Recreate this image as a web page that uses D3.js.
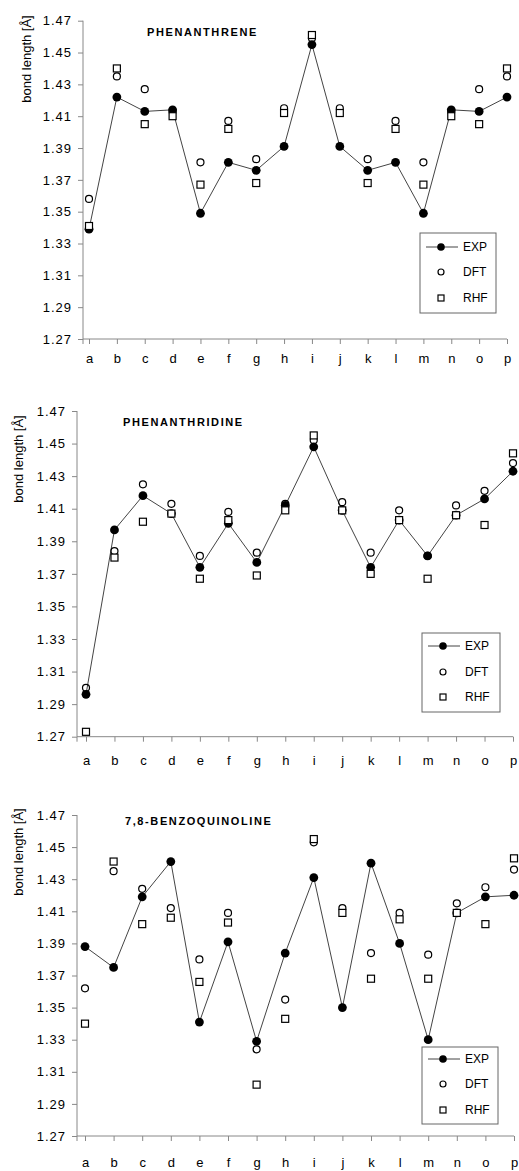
<!DOCTYPE html>
<html>
<head>
<meta charset="utf-8">
<script src="https://cdn.jsdelivr.net/npm/d3@7"></script>
<style>
  body { margin: 0; background: #fff; }
  svg { display: block; font-family: "Liberation Sans", Arial, sans-serif; }
</style>
</head>
<body>
<svg id="chart" width="519" height="1171"></svg>
<script>
// bond labels and y ticks
const categories = ["a","b","c","d","e","f","g","h","i","j","k","l","m","n","o","p"];
const yTicks = [1.27, 1.29, 1.31, 1.33, 1.35, 1.37, 1.39, 1.41, 1.43, 1.45, 1.47];
const seriesNames = ["EXP", "DFT", "RHF"];

// PHENANTHRENE
const phenEXP = [1.339,1.422,1.413,1.414,1.349,1.381,1.376,1.391,1.455,1.391,1.376,1.381,1.349,1.414,1.413,1.422];
const phenDFT = [1.358,1.435,1.427,1.413,1.381,1.407,1.383,1.415,1.459,1.415,1.383,1.407,1.381,1.413,1.427,1.435];
const phenRHF = [1.341,1.440,1.405,1.410,1.367,1.402,1.368,1.412,1.461,1.412,1.368,1.402,1.367,1.410,1.405,1.440];

// PHENANTHRIDINE
const phdnEXP = [1.296,1.397,1.418,1.407,1.374,1.401,1.377,1.412,1.448,1.409,1.374,1.403,1.381,1.406,1.416,1.433];
const phdnDFT = [1.300,1.384,1.425,1.413,1.381,1.408,1.383,1.413,1.452,1.414,1.383,1.409,1.381,1.412,1.421,1.438];
const phdnRHF = [1.273,1.380,1.402,1.407,1.367,1.403,1.369,1.409,1.455,1.409,1.370,1.403,1.367,1.406,1.400,1.444];

// 7,8-BENZOQUINOLINE
const bzqEXP = [1.388,1.375,1.419,1.441,1.341,1.391,1.329,1.384,1.431,1.350,1.440,1.390,1.330,1.409,1.419,1.420];
const bzqDFT = [1.362,1.435,1.424,1.412,1.380,1.409,1.324,1.355,1.453,1.412,1.384,1.409,1.383,1.415,1.425,1.436];
const bzqRHF = [1.340,1.441,1.402,1.406,1.366,1.403,1.302,1.343,1.455,1.409,1.368,1.405,1.368,1.409,1.402,1.443];

const panels = [
  { title: "PHENANTHRENE", exp: phenEXP, dft: phenDFT, rhf: phenRHF,
    axisX: 83, x0: 89, x1: 507, top: 20.7, bottom: 339, labelDy: 24,
    titleX: 147, titleY: 36, yLabX: 26, yLabY: 59,
    legend: { x: 420, y: 233, w: 76, h: 80, rows: [14, 39, 65] } },
  { title: "PHENANTHRIDINE", exp: phdnEXP, dft: phdnDFT, rhf: phdnRHF,
    axisX: 77, x0: 86, x1: 513, top: 411, bottom: 736.7, labelDy: 28,
    titleX: 123, titleY: 426, yLabX: 18, yLabY: 459,
    legend: { x: 422, y: 633, w: 78, h: 79, rows: [13, 39, 64] } },
  { title: "7,8-BENZOQUINOLINE", exp: bzqEXP, dft: bzqDFT, rhf: bzqRHF,
    axisX: 77, x0: 85, x1: 514, top: 815, bottom: 1136, labelDy: 31,
    titleX: 125, titleY: 825, yLabX: 18, yLabY: 852,
    legend: { x: 422, y: 1047, w: 76, h: 77, rows: [12, 37, 63] } }
];

const svg = d3.select("#chart");
const axisColor = "#888";

function drawPanel(p) {
  const g = svg.append("g");
  const x = d3.scaleLinear().domain([0, categories.length - 1]).range([p.x0, p.x1]);
  const y = d3.scaleLinear().domain([1.27, 1.47]).range([p.bottom, p.top]);

  // y axis
  const yAxis = d3.axisLeft(y).tickValues(yTicks).tickSize(5).tickPadding(6)
    .tickFormat(d3.format(".2f"));
  const ya = g.append("g").attr("transform", "translate(" + p.axisX + ",0)").call(yAxis);
  ya.select(".domain").attr("stroke", axisColor).attr("d", "M0," + p.top + "V" + p.bottom);
  ya.selectAll(".tick line").attr("stroke", axisColor);
  ya.selectAll(".tick text").attr("fill", "#000").style("font-size", "13px").style("letter-spacing", "1px");

  // x axis
  const xAxis = d3.axisBottom(x).tickValues(d3.range(categories.length)).tickSize(5)
    .tickFormat(i => categories[i]);
  const xa = g.append("g").attr("transform", "translate(0," + p.bottom + ")").call(xAxis);
  xa.select(".domain").attr("stroke", axisColor).attr("d", "M" + p.axisX + ",0H" + p.x1);
  xa.selectAll(".tick line").attr("stroke", axisColor);
  xa.selectAll(".tick text").attr("fill", "#000").style("font-size", "13px")
    .attr("y", p.labelDy).attr("dy", 0);
  xa.append("line").attr("x1", p.axisX).attr("x2", p.axisX).attr("y1", 0).attr("y2", 5)
    .attr("stroke", axisColor);

  // title and y label
  g.append("text").attr("x", p.titleX).attr("y", p.titleY)
    .style("font-size", "11px").style("font-weight", "bold").style("letter-spacing", "1.6px")
    .text(p.title);
  g.append("text")
    .attr("transform", "translate(" + p.yLabX + "," + p.yLabY + ") rotate(-90)")
    .attr("text-anchor", "middle").attr("dominant-baseline", "central")
    .style("font-size", "13px").text("bond length [Å]");

  // EXP line + markers
  const line = d3.line().x((d, i) => x(i)).y(d => y(d));
  g.append("path").datum(p.exp).attr("d", line)
    .attr("fill", "none").attr("stroke", "#444").attr("stroke-width", 1);
  g.selectAll(".exp").data(p.exp).join("circle").attr("class", "exp")
    .attr("cx", (d, i) => x(i)).attr("cy", d => y(d)).attr("r", 4.4).attr("fill", "#000");

  // DFT open circles
  g.selectAll(".dft").data(p.dft).join("circle").attr("class", "dft")
    .attr("cx", (d, i) => x(i)).attr("cy", d => y(d)).attr("r", 3.5)
    .attr("fill", "none").attr("stroke", "#000").attr("stroke-width", 1.2);

  // RHF open squares
  const s = 7;
  g.selectAll(".rhf").data(p.rhf).join("rect").attr("class", "rhf")
    .attr("x", (d, i) => x(i) - s / 2).attr("y", d => y(d) - s / 2)
    .attr("width", s).attr("height", s)
    .attr("fill", "#fff").attr("stroke", "#000").attr("stroke-width", 1.2);

  // legend
  const L = p.legend;
  const lg = g.append("g").attr("transform", "translate(" + L.x + "," + L.y + ")");
  lg.append("rect").attr("width", L.w).attr("height", L.h)
    .attr("fill", "#fff").attr("stroke", "#666").attr("stroke-width", 1);
  lg.append("line").attr("x1", 6).attr("x2", 38).attr("y1", L.rows[0]).attr("y2", L.rows[0])
    .attr("stroke", "#444");
  lg.append("circle").attr("cx", 21).attr("cy", L.rows[0]).attr("r", 3.8).attr("fill", "#000");
  lg.append("circle").attr("cx", 21).attr("cy", L.rows[1]).attr("r", 3)
    .attr("fill", "none").attr("stroke", "#000").attr("stroke-width", 1.2);
  lg.append("rect").attr("x", 18).attr("y", L.rows[2] - 3).attr("width", 6).attr("height", 6)
    .attr("fill", "#fff").attr("stroke", "#000").attr("stroke-width", 1.2);
  lg.selectAll(".lt").data(seriesNames).join("text").attr("class", "lt")
    .attr("x", 43).attr("y", (d, i) => L.rows[i]).attr("dominant-baseline", "central")
    .style("font-size", "12px").text(d => d);
}

panels.forEach(drawPanel);
</script>
</body>
</html>
